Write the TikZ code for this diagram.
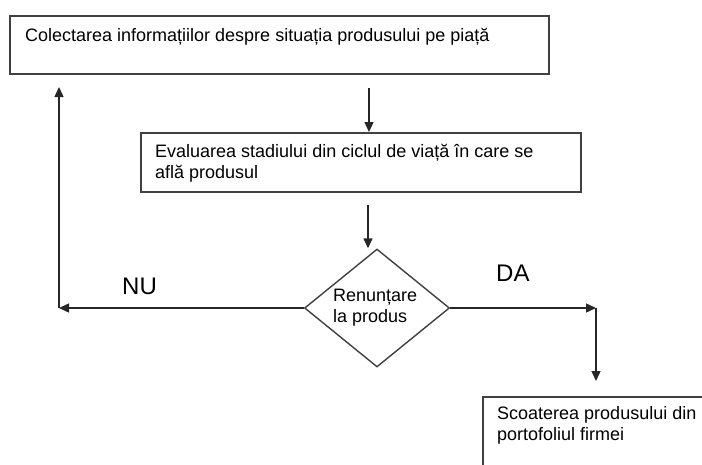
\documentclass[tikz,border=0pt]{standalone}
\usepackage{fontspec}
\setmainfont{Liberation Sans}
\usetikzlibrary{shapes.geometric,arrows.meta}
\tikzset{
  x=1pt, y=-1pt,
  box/.style={draw=black!75, line width=1.5pt, rectangle, inner sep=0pt},
  dia/.style={draw=black!75, line width=1.4pt, diamond, inner sep=0pt, minimum width=145pt, minimum height=118pt},
  txt/.style={anchor=base west, inner sep=0pt, align=left, font=\fontsize{18}{20.5}\selectfont},
  lab/.style={anchor=base west, inner sep=0pt, font=\fontsize{24}{28}\selectfont},
  arr/.style={draw=black!85, line width=1.4pt, -{Triangle[length=10pt,width=9pt]}}
}
\begin{document}
\begin{tikzpicture}
\clip (0,0) rectangle (702,464);
\fill[white] (0,0) rectangle (702,464);
% boxes
\node[box, minimum width=539pt, minimum height=58pt, anchor=north west] (b1) at (9,15) {};
\node[txt] (t1) at (25,41) {Colectarea informațiilor despre situația produsului pe piață};
\node[box, minimum width=440pt, minimum height=59pt, anchor=north west] (b2) at (140,132) {};
\node[txt] (t2) at (155,178) {Evaluarea stadiului din ciclul de viață în care se\\află produsul};
\node[dia] (d) at (377,308) {};
\node[txt] (t3) at (333,322) {Renunțare\\la produs};
\node[box, minimum width=260pt, minimum height=110pt, anchor=north west] (b3) at (482,396) {};
\node[txt] (t4) at (497,440) {Scoaterea produsului din\\portofoliul firmei};
% labels
\node[lab] (nu) at (122,294) {NU};
\node[lab] (da) at (496,281) {DA};
% coordinates
\coordinate (c1) at (369,88);
\coordinate (c2) at (368,205);
\coordinate (nl) at (59,308);
\coordinate (nt) at (59,87);
\coordinate (dr) at (596,308);
\coordinate (db) at (596,381);
% connectors
\draw[arr] (c1) -- (c1 |- b2.north);
\draw[arr] (c2) -- (c2 |- d.north);
\draw[arr] (d.west) -- (nl);
\draw[arr] (nl) -- (nt);
\draw[arr] (d.east) -- (dr);
\draw[arr] (dr) -- (db);
\end{tikzpicture}
\end{document}
